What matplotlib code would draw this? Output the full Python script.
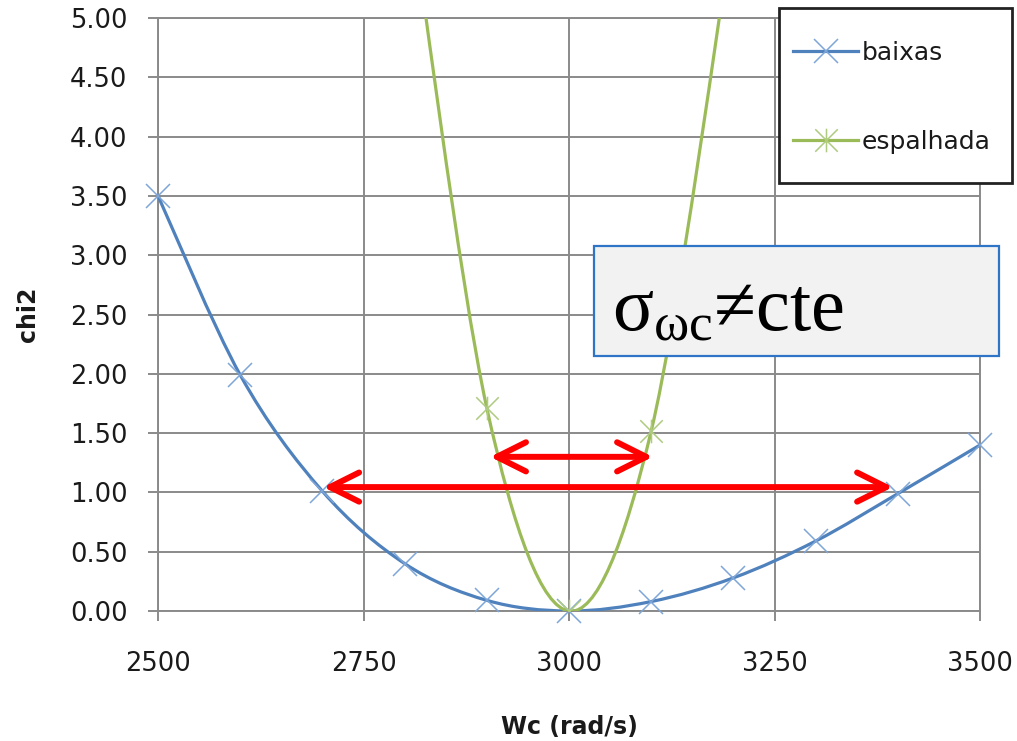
import matplotlib
matplotlib.use("Agg")
import matplotlib.pyplot as plt
from matplotlib.path import Path
from matplotlib.patches import PathPatch, Rectangle
from matplotlib.lines import Line2D
from matplotlib.ticker import FormatStrFormatter

# data
wc_baixas = [2500, 2600, 2700, 2800, 2900, 3000, 3100, 3200, 3300, 3400, 3500]
chi2_baixas = [3.50, 1.99, 1.01, 0.40, 0.09, 0.00, 0.08, 0.28, 0.59, 0.99, 1.40]

wc_espalhada = [2800, 2900, 3000, 3100, 3200]
chi2_espalhada = [6.3, 1.71, 0.00, 1.52, 5.8]

x_ticks = [2500, 2750, 3000, 3250, 3500]
y_ticks = [0, 0.5, 1.0, 1.5, 2.0, 2.5, 3.0, 3.5, 4.0, 4.5, 5.0]

# red double arrows (x from, x to, y)
arrow_narrow = (2904, 3102, 1.30)
arrow_wide = (2701, 3394, 1.045)

blue = "#4f81bd"
blue_mk = "#7ea6d8"
green = "#9bbb59"
green_mk = "#aecb80"
grid_c = "#8a8a8a"


def smooth_path(xs, ys):
    # excel-like smoothed line: catmull-rom segments as cubic beziers
    pts = list(zip(xs, ys))
    verts = [pts[0]]
    codes = [Path.MOVETO]
    n = len(pts)
    for i in range(n - 1):
        p0 = pts[max(i - 1, 0)]
        p1 = pts[i]
        p2 = pts[i + 1]
        p3 = pts[min(i + 2, n - 1)]
        c1 = (p1[0] + (p2[0] - p0[0]) / 6, p1[1] + (p2[1] - p0[1]) / 6)
        c2 = (p2[0] - (p3[0] - p1[0]) / 6, p2[1] - (p3[1] - p1[1]) / 6)
        verts += [c1, c2, p2]
        codes += [Path.CURVE4] * 3
    return Path(verts, codes)


# asterisk marker like excel's "*"
star = Path([(-1, -1), (1, 1), (-1, 1), (1, -1), (0, -1.05), (0, 1.05)],
            [Path.MOVETO, Path.LINETO] * 3)

plt.rcParams['font.family'] = 'DejaVu Sans'
plt.rcParams['mathtext.fontset'] = 'custom'
plt.rcParams['mathtext.rm'] = 'Liberation Serif'
plt.rcParams['mathtext.it'] = 'Liberation Serif'

fig = plt.figure(figsize=(10.17, 7.41), dpi=100)
ax = fig.add_axes([0.1554, 0.1754, 0.8083, 0.8003])

ax.add_patch(PathPatch(smooth_path(wc_baixas, chi2_baixas), fill=False,
                       ec=blue, lw=2.3, zorder=3, capstyle='round'))
ax.plot(wc_baixas, chi2_baixas, ls='none', marker='x', ms=17, mew=1.1,
        mec=blue_mk, zorder=4, clip_on=False)

ax.add_patch(PathPatch(smooth_path(wc_espalhada, chi2_espalhada), fill=False,
                       ec=green, lw=2.3, zorder=3, capstyle='round'))
ax.plot(wc_espalhada, chi2_espalhada, ls='none', marker=star, ms=17, mew=1.1,
        mec=green_mk, zorder=4)

for x0, x1, y in (arrow_narrow, arrow_wide):
    ax.annotate('', xy=(x1, y), xytext=(x0, y),
                arrowprops=dict(arrowstyle='<->,head_length=2.1,head_width=1.05',
                                color='red', lw=4.3, shrinkA=0, shrinkB=0,
                                capstyle='round', joinstyle='round'),
                zorder=5)

ax.set_xlim(2500, 3500)
ax.set_ylim(0, 5)
ax.set_xticks(x_ticks)
ax.set_yticks(y_ticks)
ax.yaxis.set_major_formatter(FormatStrFormatter('%.2f'))
ax.grid(True, color=grid_c, lw=1.4)
ax.set_axisbelow(True)
for s in ax.spines.values():
    s.set_color(grid_c)
    s.set_linewidth(1.4)
ax.tick_params(direction='out', length=7, width=1.4, color=grid_c,
               labelsize=18.5, labelcolor='#1a1a1a')
ax.tick_params(axis='y', pad=15)
ax.tick_params(axis='x', pad=22)

ax.set_xlabel('Wc (rad/s)', fontsize=17, fontweight='bold', color='#1a1a1a')
ax.set_ylabel('chi2', fontsize=17, fontweight='bold', color='#1a1a1a')
ax.xaxis.set_label_coords(0.5, -0.175)
ax.yaxis.set_label_coords(-0.1436, 0.5)

# legend with its own frame, sticking out of the plot area
fig.patches.append(Rectangle((779 / 1017, 1 - 183 / 741), 233 / 1017, 175 / 741,
                             transform=fig.transFigure, fc='white', ec='#222222',
                             lw=2, zorder=2))
handles = [Line2D([], [], color=blue, lw=2.3, marker='x', ms=17, mew=1.1, mec=blue_mk),
           Line2D([], [], color=green, lw=2.3, marker=star, ms=17, mew=1.1, mec=green_mk)]
leg = fig.legend(handles, ['baixas', 'espalhada'], loc='center left',
                 bbox_to_anchor=(793 / 1017, 1 - 97 / 741), frameon=False,
                 fontsize=18, labelspacing=2.6, handlelength=2.6,
                 handletextpad=0.15, borderpad=0, borderaxespad=0)
leg.set_zorder(3)
for t in leg.get_texts():
    t.set_color('#1a1a1a')

# annotation box
fig.patches.append(Rectangle((594 / 1017, 1 - 356 / 741), 405 / 1017, 110 / 741,
                             transform=fig.transFigure, fc='#f2f2f2', ec='#2e75c8',
                             lw=1.6, zorder=2))
fig.text(612 / 1017, 1 - 330 / 741, r'$\sigma_{\omega c}$≠cte', fontsize=55,
         family='Liberation Serif', va='baseline', ha='left', zorder=3)

fig.savefig('out.png', dpi=100)
